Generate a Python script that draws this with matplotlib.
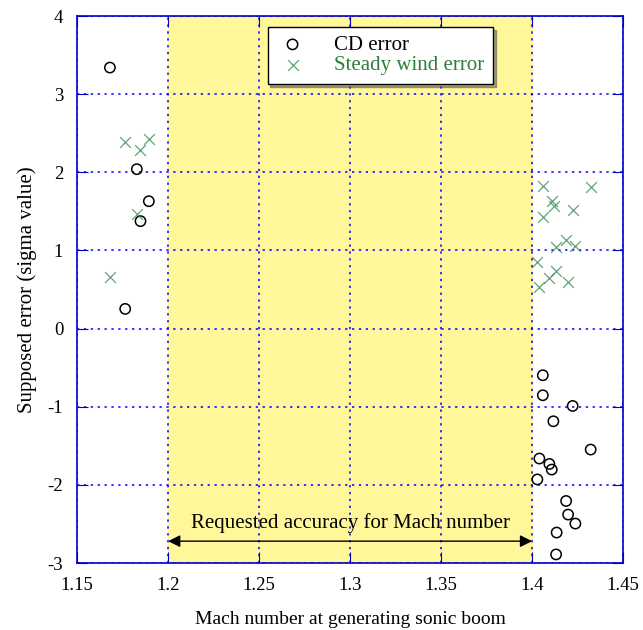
import matplotlib
matplotlib.use("Agg")
import matplotlib.pyplot as plt

plt.rcParams["font.family"] = ["Liberation Serif", "DejaVu Serif"]
plt.rcParams["axes.unicode_minus"] = False

# CD error samples (Mach, sigma)
cd_mach = [1.168, 1.1828, 1.1894, 1.1848, 1.1764,
           1.4059, 1.4059, 1.4223, 1.4117, 1.4322, 1.404, 1.4095, 1.4108,
           1.4029, 1.4187, 1.4198, 1.4238, 1.4135, 1.4132]
cd_sigma = [3.34, 2.04, 1.63, 1.375, 0.252,
            -0.597, -0.853, -0.99, -1.186, -1.548, -1.663, -1.732, -1.804,
            -1.93, -2.206, -2.38, -2.495, -2.61, -2.89]

# steady wind error samples
wind_mach = [1.1764, 1.1894, 1.1848, 1.183, 1.168,
             1.4059, 1.4324, 1.4108, 1.4121, 1.4223, 1.4059, 1.4187, 1.4132,
             1.4238, 1.4029, 1.4132, 1.4095, 1.42, 1.404]
wind_sigma = [2.39, 2.43, 2.29, 1.46, 0.66,
              1.823, 1.807, 1.635, 1.57, 1.516, 1.43, 1.14, 1.04,
              1.06, 0.85, 0.74, 0.645, 0.60, 0.53]

accuracy_range = (1.2, 1.4)
x_ticks = [1.15, 1.2, 1.25, 1.3, 1.35, 1.4, 1.45]
x_tick_labels = ["1.15", "1.2", "1.25", "1.3", "1.35", "1.4", "1.45"]
y_ticks = [-3, -2, -1, 0, 1, 2, 3, 4]

fig = plt.figure(figsize=(6.43, 6.30), dpi=100)
ax = fig.add_axes([0.12, 0.1063, 0.849, 0.8683])

ax.axvspan(accuracy_range[0], accuracy_range[1], color="#fff799", zorder=0)

ax.set_xlim(1.15, 1.45)
ax.set_ylim(-3, 4)
ax.set_xticks(x_ticks)
ax.set_xticklabels(x_tick_labels)
ax.set_yticks(y_ticks)
ax.grid(True, color="#0000ff", linestyle=(0, (1.5, 3)), linewidth=1.1, zorder=1)
for s in ax.spines.values():
    s.set_color("#0000cc")
    s.set_linewidth(1.2)
ax.tick_params(direction="in", length=8, color="#0000cc", top=True, right=True,
               labelsize=13.5, pad=10)

ax.scatter(cd_mach, cd_sigma, s=55, facecolors="none", edgecolors="black",
           linewidths=1.1, zorder=3, label="CD error")
ax.scatter(wind_mach, wind_sigma, s=60, marker="x", color="#3c8c50",
           linewidths=0.9, alpha=0.8, zorder=3, label="Steady wind error")

ax.annotate("", xy=(accuracy_range[0], -2.72), xytext=(accuracy_range[1], -2.72),
            arrowprops=dict(arrowstyle="<|-|>", color="black", lw=1.0,
                            mutation_scale=18, shrinkA=0, shrinkB=0), zorder=4)
ax.text(sum(accuracy_range) / 2, -2.49, "Requested accuracy for Mach number",
        ha="center", va="center", fontsize=15)

ax.set_xlabel("Mach number at generating sonic boom", fontsize=14, labelpad=12)
ax.set_ylabel("Supposed error (sigma value)", fontsize=15, labelpad=8)

leg = ax.legend(loc="upper center", bbox_to_anchor=(0.555, 0.98), fontsize=15,
                frameon=True, fancybox=False, shadow=True, edgecolor="black",
                framealpha=1, handlelength=1.6, handletextpad=1.2,
                borderpad=0.4, labelspacing=0.05, borderaxespad=0)
leg.get_frame().set_linewidth(1.0)
leg.get_texts()[1].set_color("#2e7d3a")

fig.savefig("out.png", dpi=100)
